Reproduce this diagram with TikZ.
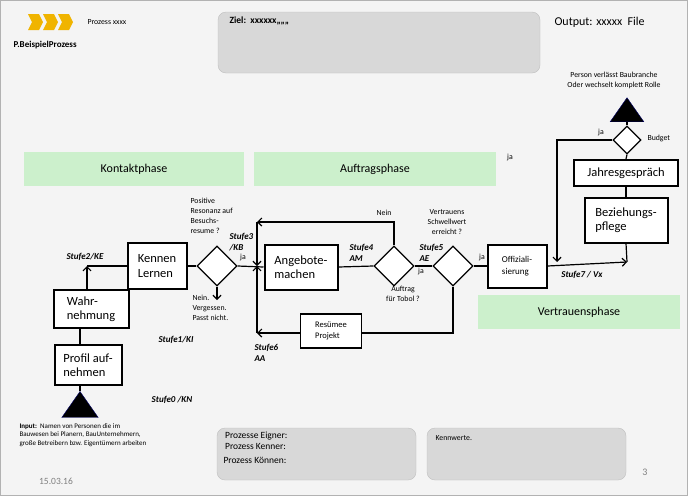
\documentclass[tikz,border=0pt]{standalone}
\usepackage{fontspec}
\setmainfont{Carlito}
\usetikzlibrary{arrows.meta,shapes.geometric}
\definecolor{bg}{HTML}{F4F4F4}
\definecolor{gbox}{HTML}{D8D8D8}
\definecolor{grn}{HTML}{CCF0CC}
\definecolor{chev}{HTML}{F0B400}
\begin{document}
\begin{tikzpicture}[x=1pt,y=-1pt,
  box/.style={draw,line width=2pt,fill=white,align=left,inner sep=3pt},
  dia/.style={draw,line width=1.2pt,fill=white,diamond,minimum width=40pt,minimum height=40pt,inner sep=0},
  sdia/.style={draw,line width=1.2pt,fill=white,diamond,minimum width=28pt,minimum height=28pt,inner sep=0},
  phase/.style={fill=grn,minimum height=34pt,font=\fontsize{12}{14}\selectfont},
  gray/.style={fill=gbox,rounded corners=8pt,draw=gray!50},
  ln/.style={line width=1.2pt},
  ar/.style={line width=1.2pt,-{Straight Barb[length=4pt]}},
  st/.style={font=\fontsize{9}{10.5}\selectfont\itshape\bfseries,align=left},
  sm/.style={font=\fontsize{7.8}{10}\selectfont,align=left},
  bt/.style={font=\fontsize{12.5}{14.5}\selectfont},
  tri/.style={draw=blue!40!black,fill=black,isosceles triangle,shape border rotate=90,isosceles triangle apex angle=70,minimum height=24pt,inner sep=0}]
\useasboundingbox (0,0) rectangle (688,496);
\fill[bg,draw=gray!60] (0.5,0.5) rectangle (687.5,495.5);
% header
\foreach \x in {28,43,58}{\fill[chev] (\x,14)--(\x+11,14)--(\x+15,22)--(\x+11,30)--(\x,30)--(\x+4,22)--cycle;}
\node[sm,anchor=west] (proz) at (84,22) {Prozess xxxx};
\node[anchor=west,font=\fontsize{9}{11}\selectfont\bfseries] (bsp) at (10,45) {P.BeispielProzess};
\node[gray,minimum width=322pt,minimum height=61pt] (ziel) at (379,42.5) {};
\node[anchor=north west,font=\fontsize{9.5}{11}\selectfont\bfseries] (zt) at (226,13) {Ziel:\ \ xxxxxx,,,,,,};
\node[anchor=west,font=\fontsize{12}{14}\selectfont] (out) at (551,22) {Output: xxxxx\ \ File};
\node[sm,align=center] (pers) at (614,80) {Person verlässt Baubranche\\Oder wechselt komplett Rolle};
% right column
\node[tri] (tr2) at (627,113) {};
\node[sdia] (bud) at (627,140) {};
\node[sm,anchor=west] (budt) at (644,138) {Budget};
\node[sm] (ja1) at (601,132) {ja};
\node[box,minimum width=104pt,minimum height=26pt,align=center,bt] (jahr) at (626,173) {Jahresgespräch};
\node[box,minimum width=83pt,minimum height=45pt,bt] (bez) at (626,220) {Beziehungs-\\pflege};
\coordinate (c7a) at (557,140);
\coordinate (c7b) at (557,262);
\coordinate (c7c) at (627,262);
\draw[ln] (tr2.south) -- (bud.north);
\draw[ln] (bud.south) -- (jahr.north);
\draw[ln] (jahr.south) -- (bez.north);
\draw[ln] (bez.south) -- (c7c);
\draw[ar] (bud.west) -- (c7a) -- (c7b);
\node[st] (s7) at (582,275) {Stufe7 / Vx};
% phases
\node[phase,minimum width=220pt] (kp) at (134,169) {Kontaktphase};
\node[phase,minimum width=242pt] (ap) at (375,169) {Auftragsphase};
\node[phase,minimum width=202pt] (vp) at (579,312) {Vertrauensphase};
\node[sm] (ja2) at (510,157) {ja};
% left column
\node[tri,minimum height=26pt] (tr1) at (80,408) {};
\node[box,minimum width=67pt,minimum height=40pt,bt] (prof) at (88,365) {Profil auf-\\nehmen};
\node[box,minimum width=75pt,minimum height=38pt,bt] (wahr) at (91,309) {Wahr-\\nehmung};
\node[box,minimum width=59pt,minimum height=46pt,bt] (kenn) at (157,266) {Kennen\\Lernen};
\draw[ln] (tr1.north) -- (prof.south -| tr1.north);
\draw[ln] (prof.north -| tr1.north) -- (wahr.south -| tr1.north);
\coordinate (c2) at (87,266);
\draw[ar] (wahr.north -| c2) -- (c2);
\draw[ln] (c2) -- (kenn.west);
\node[st] (s2) at (85,257) {Stufe2/KE};
\node[st] (s1) at (176,340) {Stufe1/KI};
\node[st] (s0) at (172,400) {Stufe0 /KN};
\node[font=\fontsize{7}{8.5}\selectfont,align=left,anchor=north west] (inp) at (16,420) {\textbf{Input:}\ \ Namen von Personen die im\\Bauwesen bei Planern, BauUnternehmern,\\große Betreibern bzw. Eigentümern arbeiten};
% diamond 3
\node[dia] (d3) at (217,266) {};
\draw[ln] (kenn.east) -- (d3.west);
\coordinate (d3n) at (217,300);
\draw[ar] (d3.south) -- (d3n);
\node[sm,anchor=north west] (nein1) at (189,292) {Nein.\\Vergessen.\\Passt nicht.};
\node[sm,anchor=south west] (pos) at (187,237) {Positive\\Resonanz auf\\Besuchs-\\resume ?};
\node[st,anchor=north west] (s3) at (226,230) {Stufe3\\/KB};
\node[sm] (ja3) at (243,257) {ja};
% Auftragsphase
\node[box,minimum width=73pt,minimum height=45pt,bt] (ang) at (301,267) {Angebote-\\machen};
\node[dia] (d4) at (394,266) {};
\node[dia] (d5) at (453,266) {};
\node[box,minimum width=59pt,minimum height=43pt,font=\fontsize{9}{11.5}\selectfont] (off) at (517,266) {Offiziali-\\sierung};
\node[draw,line width=1.5pt,fill=white,minimum width=61pt,minimum height=34pt,align=left,font=\fontsize{8.5}{11}\selectfont] (res) at (331,331) {Resümee\\Projekt};
\coordinate (v1) at (257,222);
\coordinate (v2) at (257,333);
\coordinate (vm) at (257,266);
\coordinate (n4) at (394,222);
\coordinate (b5) at (453,333);
\draw[ln] (d3.east) -- (ang.west);
\draw[ln] (ang.east) -- (d4.west);
\draw[ln] (d4.east) -- (d5.west);
\draw[ln] (d5.east) -- (off.west);
\draw[ar] (d4.north) -- (n4) -- (v1);
\draw[ar] (v1) -- (vm);
\draw[ar] (v2) -- (vm);
\draw[ln] (d5.south) -- (b5) -- (res.east |- b5);
\draw[ar] (res.west |- v2) -- (v2);
\draw[ar] (off.east) -- (c7c);
\node[sm] (nein4) at (384,213) {Nein};
\node[st,anchor=north west] (s4) at (346,241) {Stufe4\\AM};
\node[sm,align=center] (auf) at (403,294) {Auftrag\\für Tobol ?};
\node[st,anchor=north west] (s5) at (416,241) {Stufe5\\AE};
\node[sm] (ja5) at (421,271) {ja};
\node[sm,align=center] (vert) at (447,222) {Vertrauens\\Schwellwert\\erreicht ?};
\node[sm] (ja6) at (482,257) {ja};
\node[st,anchor=north west] (s6) at (251,341) {Stufe6\\AA};
% bottom
\node[gray,minimum width=199pt,minimum height=52pt] (pe) at (316.5,454) {};
\node[anchor=north west,font=\fontsize{9.5}{11}\selectfont,align=left] (pet) at (220,428) {\,Prozesse Eigner:\\\,Prozess Kenner:\\[3pt]Prozess Können:};
\node[gray,minimum width=199pt,minimum height=52pt] (kw) at (526.5,454) {};
\node[anchor=north west,sm] (kwt) at (432,432) {Kennwerte.};
\node[font=\fontsize{10}{12}\selectfont,text=gray] (pg) at (645,472) {3};
\node[font=\fontsize{9.5}{11}\selectfont,text=gray] (dt) at (56,481) {15.03.16};
\end{tikzpicture}
\end{document}
